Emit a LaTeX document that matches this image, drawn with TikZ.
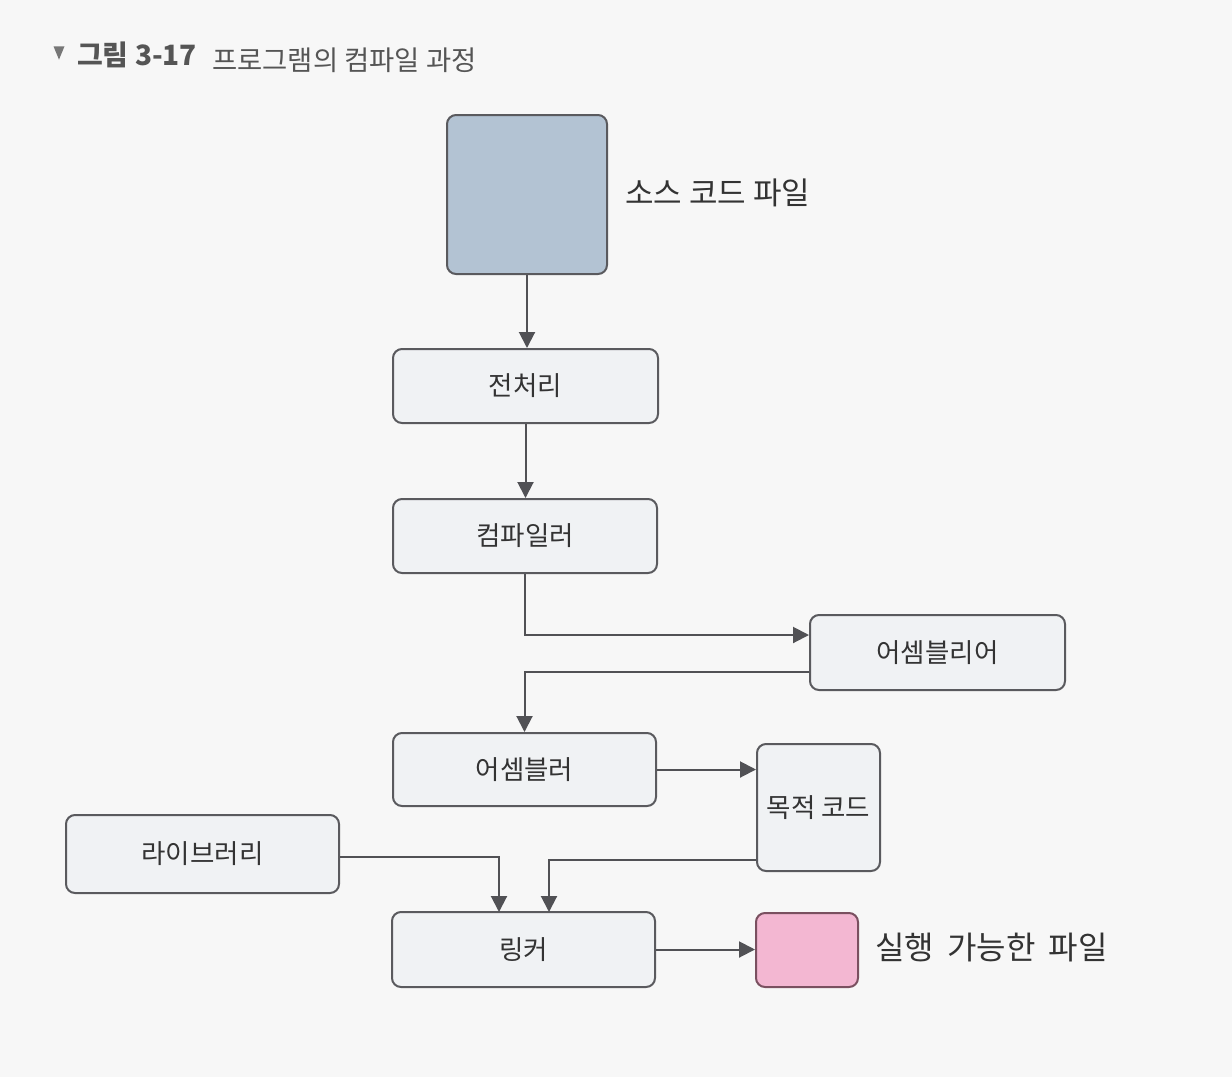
\documentclass[tikz,border=0pt]{standalone}
\usepackage{fontspec}
\setmainfont{Noto Sans CJK KR}
\newfontfamily\krfont{Noto Sans CJK KR}
\usetikzlibrary{arrows.meta,shapes.geometric}
\definecolor{bgc}{HTML}{F7F7F7}
\definecolor{boxfill}{HTML}{F0F2F4}
\definecolor{boxline}{HTML}{5A5A5E}
\definecolor{srcfill}{HTML}{B3C3D3}
\definecolor{exefill}{HTML}{F3B7D2}
\definecolor{exeline}{HTML}{7A5060}
\definecolor{titlec}{HTML}{555555}
\tikzset{
  procbox/.style={draw=boxline, fill=boxfill, line width=2pt, rounded corners=9pt, inner sep=0pt,
    font=\krfont\fontsize{26.5}{30}\selectfont, text=black!80},
  conn/.style={draw=boxline!90!black, line width=2pt, -{Triangle[length=16pt,width=16pt]}},
  sidelabel/.style={font=\krfont\fontsize{31}{34}\selectfont, text=black!80, anchor=west, inner sep=0pt},
}
\begin{document}
\begin{tikzpicture}[x=1pt,y=-1pt]
\useasboundingbox[fill=bgc] (0,0) rectangle (1232,1077);
% title
\node[fill=titlec!80, isosceles triangle, shape border rotate=-90, inner sep=0pt, minimum width=11pt, minimum height=9pt] (tri) at (59,50) {};
\node[anchor=west, inner sep=0pt, text=titlec, font=\krfont\fontsize{28}{30}\selectfont\bfseries] (tnum) at (77,55) {그림 3-17};
\node[anchor=west, inner sep=0pt, text=titlec, font=\krfont\fontsize{27.4}{30}\selectfont] (ttext) at (212,60) {프로그램의 컴파일 과정};
% nodes
\node[procbox, fill=srcfill, minimum width=160pt, minimum height=159pt] (src) at (527,194.5) {};
\node[sidelabel] (srcl) at (625,193) {소스 코드 파일};
\node[procbox, minimum width=265pt, minimum height=74pt] (pre) at (525.5,386) {전처리};
\node[procbox, minimum width=264pt, minimum height=74pt] (comp) at (525,536) {컴파일러};
\node[procbox, minimum width=255pt, minimum height=75pt] (asml) at (937.5,652.5) {어셈블리어};
\node[procbox, minimum width=263pt, minimum height=73pt] (asm) at (524.5,769.5) {어셈블러};
\node[procbox, minimum width=123pt, minimum height=127pt] (obj) at (818.5,807.5) {목적 코드};
\node[procbox, minimum width=273pt, minimum height=78pt] (lib) at (202.5,854) {라이브러리};
\node[procbox, minimum width=263pt, minimum height=75pt] (link) at (523.5,949.5) {링커};
\node[procbox, fill=exefill, draw=exeline, minimum width=102pt, minimum height=74pt] (exe) at (807,950) {};
\node[sidelabel, font=\krfont\fontsize{32}{34}\selectfont] (exel) at (875,948) {실행\hspace{6pt} 가능한\hspace{6pt} 파일};
% connectors
\draw[conn] (src.south) -- (src.south |- pre.north);
\draw[conn] (pre.south) -- (pre.south |- comp.north);
\draw[conn] (comp.south) |- (asml.west |- 0,635);
\coordinate (a1) at (asml.west |- 0,672);
\draw[conn] (a1) -| (asm.north);
\draw[conn] (asm.east) -- (obj.west |- asm.east);
\coordinate (l1) at (lib.east |- 0,857);
\draw[conn] (l1) -| (499,912);
\coordinate (o1) at (obj.west |- 0,860);
\draw[conn] (o1) -| (549,912);
\draw[conn] (link.east) -- (exe.west |- link.east);
\end{tikzpicture}
\end{document}
